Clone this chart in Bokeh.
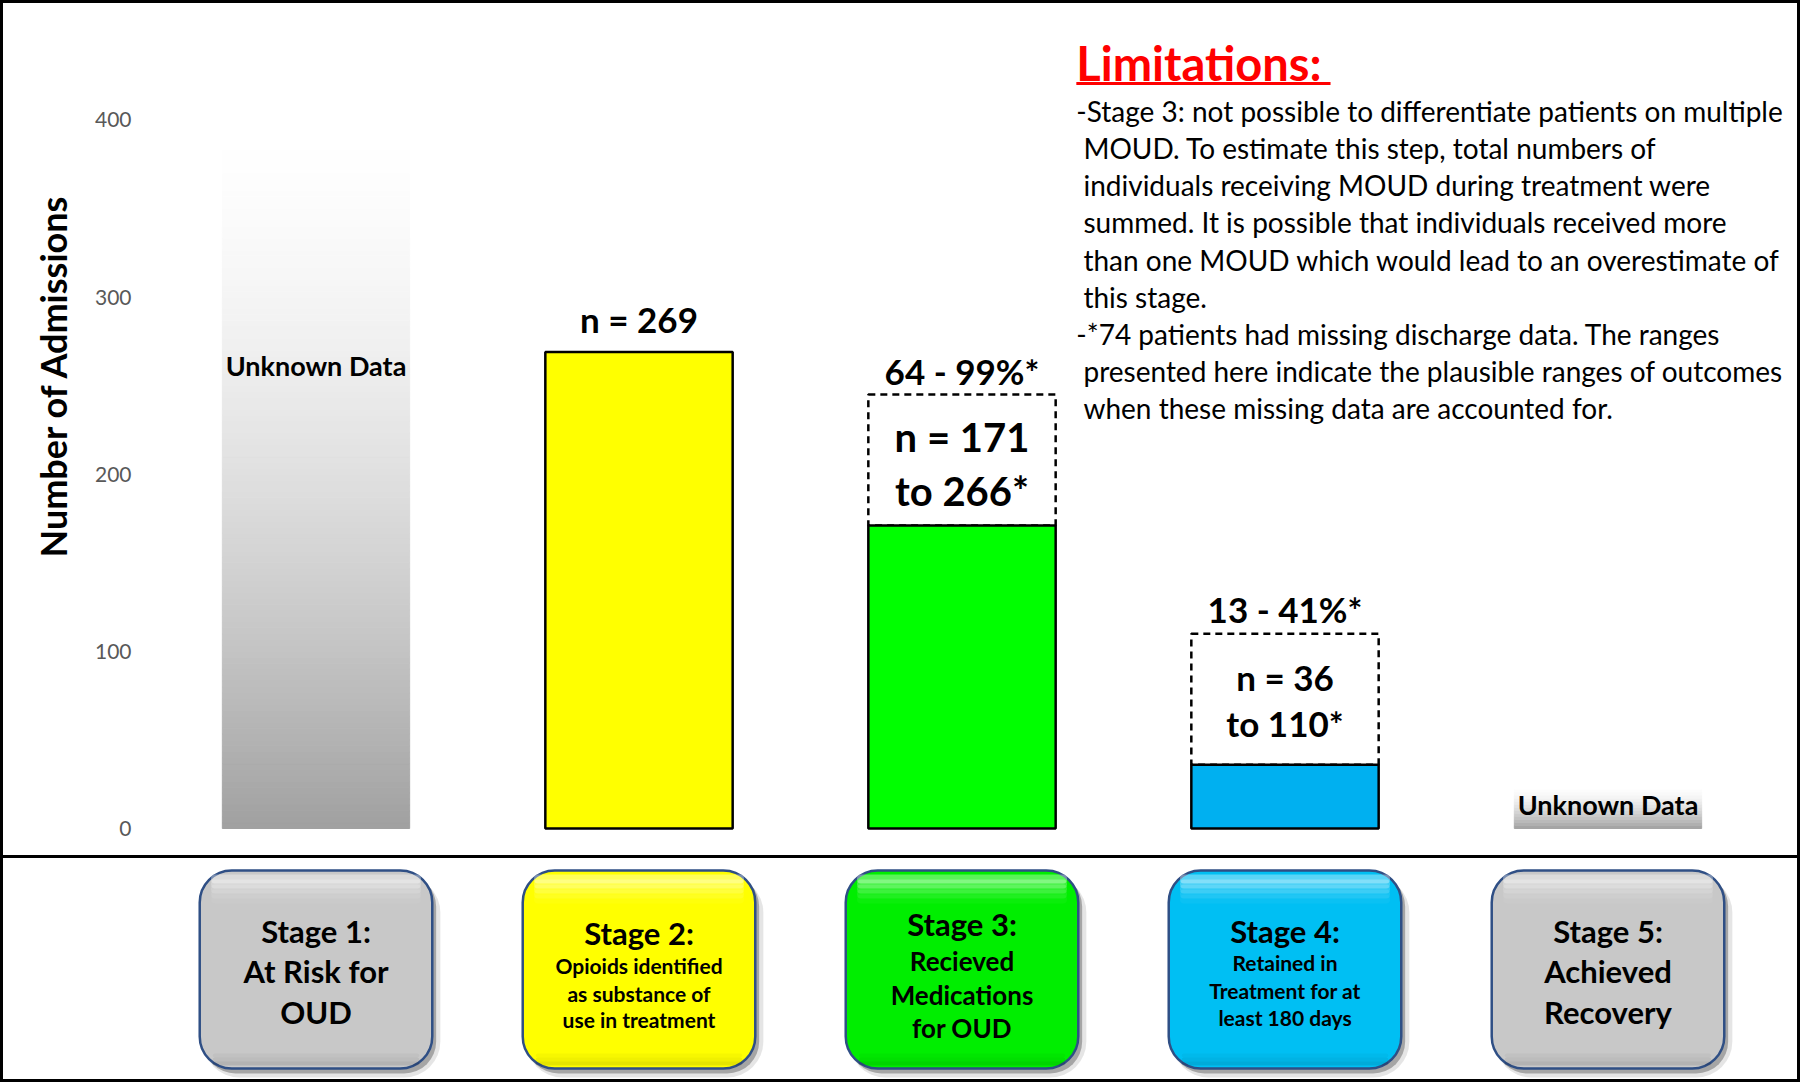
import numpy as np
from bokeh.plotting import figure
from bokeh.models import Range1d, FixedTicker, Title, ColumnDataSource
from bokeh.layouts import column
from bokeh.core.properties import value
from bokeh.embed import file_html
from bokeh.resources import INLINE

# ---------------- data ----------------
stages = ["Stage 1", "Stage 2", "Stage 3", "Stage 4", "Stage 5"]

unknown_stages = ["Stage 1", "Stage 5"]
unknown_heights = [400, 24]
unknown_label = "Unknown Data"

known_stages = ["Stage 2", "Stage 3", "Stage 4"]
known_n = [269, 171, 36]
known_colors = ["#ffff00", "#00ff00", "#00b0f0"]

range_stages = ["Stage 3", "Stage 4"]
range_box_top = [245, 110]
range_pct = ["64 - 99%*", "13 - 41%*"]
range_line1 = ["n = 171", "n = 36"]
range_line2 = ["to 266*", "to 110*"]

y_ticks = [0, 100, 200, 300, 400]
y_title = "Number of Admissions"

box_titles = ["Stage 1:", "Stage 2:", "Stage 3:", "Stage 4:", "Stage 5:"]
box_desc = [
    ["At Risk for", "OUD"],
    ["Opioids identified", "as substance of", "use in treatment"],
    ["Recieved", "Medications", "for OUD"],
    ["Retained in", "Treatment for at", "least 180 days"],
    ["Achieved", "Recovery"],
]
box_colors = ["#c8c8c8", "#ffff00", "#00ee00", "#00bff3", "#c8c8c8"]

limitations_title = "Limitations:"
limitations_lines = [
    "-Stage 3: not possible to differentiate patients on multiple",
    "MOUD. To estimate this step, total numbers of",
    "individuals receiving MOUD during treatment were",
    "summed. It is possible that individuals received more",
    "than one MOUD which would lead to an overestimate of",
    "this stage.",
    "-*74 patients had missing discharge data. The ranges",
    "presented here indicate the plausible ranges of outcomes",
    "when these missing data are accounted for.",
]

# ---------------- layout / style ----------------
FONT = "Lato"
PAD = 3
W = 1800 - 2 * PAD
TOP_H = 852
BOT_H = 221
ML, MR = 151, 0
BAR_W = 0.58
X_END = 5.0867                      # category slots of equal width, 0..5 plus right margin
pos = {s: i + 0.5 for i, s in enumerate(stages)}   # slot centres on the x scale


def gray(t):
    g = 160 + 95 * (1 - (1 - t) ** 1.6)
    g = int(round(min(255, max(0, g))))
    return "#%02x%02x%02x" % (g, g, g)


top = figure(width=W, height=TOP_H,
             x_range=Range1d(0, X_END),
             y_range=Range1d(-12.42, 465.77),
             output_backend="svg", toolbar_location=None,
             x_axis_location=None, y_axis_location="left",
             min_border_left=ML, min_border_right=MR,
             min_border_top=0, min_border_bottom=5,
             outline_line_color=None, background_fill_color="white",
             border_fill_color="white", styles={"background-color": "white"})
top.grid.visible = False
ax = top.yaxis[0]
ax.ticker = FixedTicker(ticks=y_ticks)
ax.axis_line_color = None
ax.major_tick_line_color = None
ax.minor_tick_line_color = None
ax.major_label_text_font = FONT
ax.major_label_text_font_size = "21px"
ax.major_label_text_color = "#595959"
ax.major_label_standoff = 17

top.add_layout(Title(text=y_title, align="left", text_font=FONT,
                     text_font_size="36px", text_font_style="bold",
                     text_color="black", offset=293, standoff=34), "left")

# gradient "unknown data" bars
for st, h in zip(unknown_stages, unknown_heights):
    n = 120 if h > 100 else 14
    edges = np.linspace(0, h, n + 1)
    cols = [gray((i + 0.5) / n) for i in range(n)]
    src = ColumnDataSource(dict(x=[pos[st]] * n, b=edges[:-1], t=edges[1:], c=cols))
    top.vbar(x="x", bottom="b", top="t", width=BAR_W, source=src,
             fill_color="c", line_color="c", line_width=1)

# unknown labels
top.text(x=[pos[s] for s in unknown_stages], y=[h / 2 for h in unknown_heights],
         text=[unknown_label] * len(unknown_stages),
         y_offset=[-109, -3], text_align="center", text_baseline="middle",
         text_font=value(FONT), text_font_size="27px", text_font_style="bold",
         text_color="black")

n_by_stage = dict(zip(known_stages, known_n))

# dashed range boxes
top.vbar(x=[pos[s] for s in range_stages], bottom=[n_by_stage[s] for s in range_stages],
         top=range_box_top, width=BAR_W, fill_color=None,
         line_color="black", line_width=2.5, line_dash="7 5")

# solid bars
top.vbar(x=[pos[s] for s in known_stages], top=known_n, width=BAR_W, fill_color=known_colors,
         line_color="black", line_width=2.5)

# single n labels
single = [s for s in known_stages if s not in range_stages]
top.text(x=[pos[s] for s in single], y=[n_by_stage[s] for s in single],
         text=["n = %d" % n_by_stage[s] for s in single], y_offset=-33,
         text_align="center", text_baseline="middle",
         text_font=value(FONT), text_font_size="35px", text_font_style="bold",
         text_color="black")

# range labels
range_style = [dict(pct_off=-24, l1=42, l2=96, size="40px"),
               dict(pct_off=-25, l1=43, l2=89, size="35px")]
for i, st in enumerate(range_stages):
    sty = range_style[i]
    for txt, off, size in [(range_pct[i], sty["pct_off"], "35px"),
                           (range_line1[i], sty["l1"], sty["size"]),
                           (range_line2[i], sty["l2"], sty["size"])]:
        top.text(x=[pos[st]], y=[range_box_top[i]], text=[txt], y_offset=off,
                 text_align="center", text_baseline="middle",
                 text_font=value(FONT), text_font_size=size, text_font_style="bold",
                 text_color="black")

# limitations text block
LX, LX_INDENT = 2.854, 2.876
top.text(x=[LX], y=[431.9], text=[limitations_title], text_align="left",
         text_baseline="middle", text_font=value(FONT), text_font_size="47px",
         text_font_style="bold", text_color="#ff0000")
top.segment(x0=[LX], y0=[420.6], x1=[3.641], y1=[420.6], line_color="#ff0000", line_width=3)
top.text(x=[LX if t.startswith("-") else LX_INDENT for t in limitations_lines],
         y=[404.8 - 20.89 * i for i in range(len(limitations_lines))],
         text=limitations_lines, text_align="left", text_baseline="middle",
         text_font=value(FONT), text_font_size="28px", text_color="black")

# ---------------- bottom stage boxes ----------------
bot = figure(width=W, height=BOT_H, x_range=Range1d(0, X_END),
             y_range=Range1d(0, BOT_H), output_backend="svg", toolbar_location=None,
             x_axis_location=None, y_axis_location=None,
             min_border_left=ML, min_border_right=MR, min_border_top=0, min_border_bottom=0,
             outline_line_color=None, background_fill_color="white", border_fill_color="white",
             styles={"background-color": "white"})
bot.grid.visible = False

BOX_W = 0.72
B0, B1 = 11, 209
xs = [pos[s] for s in stages]
# soft drop shadow
bot.vbar(x=[x + 0.018 for x in xs], bottom=B0 - 9, top=B1 - 6, width=BOX_W + 0.014,
         fill_color="#000000", fill_alpha=0.10, line_color=None, border_radius=36)
bot.vbar(x=[x + 0.012 for x in xs], bottom=B0 - 5, top=B1 - 4, width=BOX_W,
         fill_color="#000000", fill_alpha=0.28, line_color=None, border_radius=32)
bot.vbar(x=xs, bottom=B0, top=B1, width=BOX_W, fill_color=box_colors,
         line_color="#2f4f85", line_width=2.5, border_radius=32)
# lower inner shade (bevel)
for k, a in enumerate([0.10, 0.06, 0.03]):
    bot.vbar(x=xs, bottom=B0 + 3 + 4 * k, top=B0 + 7 + 4 * k, width=BOX_W - 0.08,
             fill_color="black", fill_alpha=a, line_color=None, border_radius=2)
# top bevel highlight (soft)
for k, a in enumerate([0.35, 0.25, 0.16, 0.09, 0.04]):
    bot.vbar(x=xs, bottom=B1 - 8 - 5 * (k + 1), top=B1 - 4 - 5 * k, width=BOX_W - 0.07,
             fill_color="white", fill_alpha=a, line_color=None, border_radius=4)

box_style = [
    dict(ty=149, tsize="31px", dy=[109, 68], dsize="31px"),
    dict(ty=147, tsize="31px", dy=[114, 86, 60], dsize="21px"),
    dict(ty=156, tsize="31px", dy=[119, 85, 52], dsize="26px"),
    dict(ty=149, tsize="31px", dy=[117, 89, 62], dsize="21px"),
    dict(ty=149, tsize="31px", dy=[109, 68], dsize="31px"),
]
for st, ttl, desc, sty in zip(stages, box_titles, box_desc, box_style):
    bot.text(x=[pos[st]], y=[sty["ty"]], text=[ttl], text_align="center", text_baseline="middle",
             text_font=value(FONT), text_font_size=sty["tsize"], text_font_style="bold",
             text_color="black")
    bot.text(x=[pos[st]] * len(desc), y=sty["dy"], text=desc, text_align="center",
             text_baseline="middle", text_font=value(FONT), text_font_size=sty["dsize"],
             text_font_style="bold", text_color="black")

layout = column(top, bot, spacing=PAD,
                styles={"background-color": "black", "padding": "%dpx" % PAD})
open("out.html", "w").write(file_html(layout, INLINE))
